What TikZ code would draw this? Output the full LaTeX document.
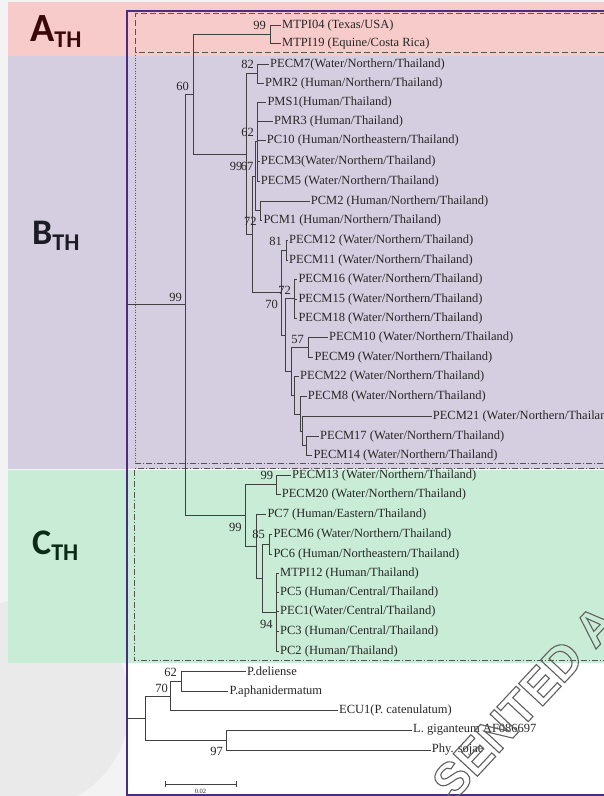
\documentclass[tikz,border=0pt]{standalone}
\usepackage{fontspec}
\setmainfont{Liberation Serif}
\newfontfamily\labelfont{Carlito}
\newfontfamily\markfont{Liberation Sans}
\definecolor{pagegray}{HTML}{F3F3F3}
\definecolor{pagecircle}{HTML}{EAEAEA}
\definecolor{bandA}{HTML}{F8CBCB}
\definecolor{bandB}{HTML}{D5CEE0}
\definecolor{bandC}{HTML}{C9ECD7}
\definecolor{framecol}{HTML}{4B2C84}
\definecolor{treeline}{HTML}{404040}
\definecolor{treeink}{HTML}{262626}
\definecolor{boxline}{HTML}{555555}
\definecolor{athcol}{HTML}{3A0808}
\definecolor{bthcol}{HTML}{1C1C24}
\definecolor{cthcol}{HTML}{0B2B14}
\definecolor{markcol}{HTML}{606060}

\begin{document}
\begin{tikzpicture}[x=1pt,y=-1pt,
  leaf/.style={anchor=west,inner sep=1pt,text=treeink,font=\fontsize{12.5}{14}\selectfont},
  boot/.style={anchor=east,inner sep=0pt,text=treeink,font=\fontsize{12.5}{14}\selectfont},
  branch/.style={draw=treeline,line width=0.9pt},
  grouplabel/.style={anchor=base west,inner sep=0pt,font=\labelfont\bfseries},
  abox/.style={draw=boxline,line width=0.6pt,dash pattern=on 6pt off 3pt},
  cbox/.style={draw=boxline,line width=0.6pt,dash pattern=on 6pt off 2pt on 1pt off 2pt}]
    \useasboundingbox (0,0) rectangle (604,796);
    \clip (0,0) rectangle (604,796);
    % achtergrond
    \fill[pagegray] (0,0) rectangle (604,796);
    \fill[pagecircle] (25,705) circle (105);
    \fill[white] (127,11) rectangle (610,795);
    % banden
    \fill[bandA] (8,2) rectangle (604,56);
    \fill[bandB] (8,56) rectangle (604,468.5);
    \fill[bandC] (8,469.5) rectangle (604,663);
    % kader
    \draw[framecol,line width=1.6pt] (610,11) -- (127,11) -- (127,795) -- (610,795);
    % kaders clades
    \draw[abox] (606,13.5) -- (135.7,13.5) -- (135.7,52.7) -- (606,52.7);
    \draw[boxline,line width=0.6pt,dotted] (135,55) -- (135,463);
    \draw[cbox] (135,463) -- (606,463);
    \draw[cbox] (606,468.5) -- (134,468.5) -- (134,660.7) -- (606,660.7);
    % groepen
    \node[grouplabel,text=athcol] (labA) at (30,41) {\fontsize{40}{40}\selectfont A\raisebox{-6pt}{\fontsize{24}{24}\selectfont TH}};
    \node[grouplabel,text=bthcol] (labB) at (32,244) {\fontsize{36}{36}\selectfont B\raisebox{-6pt}{\fontsize{24}{24}\selectfont TH}};
    \node[grouplabel,text=cthcol] (labC) at (32,554) {\fontsize{36}{36}\selectfont C\raisebox{-6pt}{\fontsize{24}{24}\selectfont TH}};

    % bladeren a
    \node[leaf] (mtpi04) at (281,25) {MTPI04 (Texas/USA)};
    \node[leaf] (mtpi19) at (281,43.3) {MTPI19 (Equine/Costa Rica)};
    % bladeren b
    \node[leaf] (pecm7) at (269,64.3) {PECM7(Water/Northern/Thailand)};
    \node[leaf] (pmr2) at (264,83.3) {PMR2 (Human/Northern/Thailand)};
    \node[leaf] (pms1) at (266.3,102.7) {PMS1(Human/Thailand)};
    \node[leaf] (pmr3) at (273,121.7) {PMR3 (Human/Thailand)};
    \node[leaf] (pc10) at (265.7,140.7) {PC10 (Human/Northeastern/Thailand)};
    \node[leaf] (pecm3) at (259.7,161) {PECM3(Water/Northern/Thailand)};
    \node[leaf] (pecm5) at (259.7,181) {PECM5 (Water/Northern/Thailand)};
    \node[leaf] (pcm2) at (309.7,201) {PCM2 (Human/Northern/Thailand)};
    \node[leaf] (pcm1) at (262.3,220.7) {PCM1 (Human/Northern/Thailand)};
    \node[leaf] (pecm12) at (288,240) {PECM12 (Water/Northern/Thailand)};
    \node[leaf] (pecm11) at (288,260) {PECM11 (Water/Northern/Thailand)};
    \node[leaf] (pecm16) at (297.3,279.3) {PECM16 (Water/Northern/Thailand)};
    \node[leaf] (pecm15) at (297.3,299) {PECM15 (Water/Northern/Thailand)};
    \node[leaf] (pecm18) at (297.3,318.3) {PECM18 (Water/Northern/Thailand)};
    \node[leaf] (pecm10) at (328,337.3) {PECM10 (Water/Northern/Thailand)};
    \node[leaf] (pecm9) at (313.3,357.3) {PECM9 (Water/Northern/Thailand)};
    \node[leaf] (pecm22) at (299,376.7) {PECM22 (Water/Northern/Thailand)};
    \node[leaf] (pecm8) at (306.7,396.7) {PECM8 (Water/Northern/Thailand)};
    \node[leaf] (pecm21) at (431.7,416.7) {PECM21 (Water/Northern/Thailand)};
    \node[leaf] (pecm17) at (319,436) {PECM17 (Water/Northern/Thailand)};
    \node[leaf] (pecm14) at (312.3,455.7) {PECM14 (Water/Northern/Thailand)};
    % bladeren c
    \node[leaf] (pecm13) at (291,475) {PECM13 (Water/Northern/Thailand)};
    \node[leaf] (pecm20) at (280.7,494.3) {PECM20 (Water/Northern/Thailand)};
    \node[leaf] (pc7) at (266.3,514.3) {PC7 (Human/Eastern/Thailand)};
    \node[leaf] (pecm6) at (272.3,534) {PECM6 (Water/Northern/Thailand)};
    \node[leaf] (pc6) at (272.3,554) {PC6 (Human/Northeastern/Thailand)};
    \node[leaf] (mtpi12) at (279,573.3) {MTPI12 (Human/Thailand)};
    \node[leaf] (pc5) at (279,592.3) {PC5 (Human/Central/Thailand)};
    \node[leaf] (pec1) at (279,611.7) {PEC1(Water/Central/Thailand)};
    \node[leaf] (pc3) at (279,631.7) {PC3 (Human/Central/Thailand)};
    \node[leaf] (pc2) at (279,651.7) {PC2 (Human/Thailand)};
    % buitengroep
    \node[leaf] (deliense) at (246,671.7) {P.deliense};
    \node[leaf] (aphan) at (228.3,691) {P.aphanidermatum};
    \node[leaf] (ecu1) at (338,710.7) {ECU1(P. catenulatum)};
    \node[leaf] (gigant) at (412,730) {L. giganteum AF086697};
    \node[leaf] (sojae) at (430.7,750) {Phy. sojae};

    % knopen
    \coordinate (rootin) at (127,304.9);
    \coordinate (rootout) at (127,718);
    \coordinate (n99r) at (185.7,304.9);
    \coordinate (n60) at (193,94.2);
    \coordinate (n99a) at (270,34.2);
    \coordinate (n99b) at (246,154.1);
    \coordinate (n82) at (257.7,73.8);
    \coordinate (n72a) at (252.7,234.4);
    \coordinate (n67) at (255,176.35);
    \coordinate (n62) at (257.7,141.85);
    \coordinate (npcm) at (260,210.85);
    \coordinate (n70) at (281.7,292.5);
    \coordinate (n81) at (286,250);
    \coordinate (nb1) at (285.7,335);
    \coordinate (n72b) at (294.3,298.8);
    \coordinate (nb2) at (291,371.3);
    \coordinate (n57) at (308.3,347.3);
    \coordinate (nb3) at (294.3,395.3);
    \coordinate (nb4) at (300.7,414);
    \coordinate (nb5) at (302.7,431.3);
    \coordinate (nb6) at (306.7,445.85);
    \coordinate (n99c) at (245,515.5);
    \coordinate (n99d) at (276.7,484.7);
    \coordinate (nc1) at (256.7,546.3);
    \coordinate (nc2) at (262.7,578.25);
    \coordinate (n85) at (269.3,544);
    \coordinate (n94) at (276,612.5);
    \coordinate (nout) at (145,718);
    \coordinate (n70o) at (170.7,696.35);
    \coordinate (n62o) at (181.7,681.35);
    \coordinate (n97) at (226,740);

    % takken
    \draw[branch] (rootin) -- (n99r);
    \draw[branch] (n99r) |- (n60);
    \draw[branch] (n99r) |- (n99c);
    \draw[branch] (n60) |- (n99a);
    \draw[branch] (n60) |- (n99b);
    \draw[branch] (n99a) |- (mtpi04.west);
    \draw[branch] (n99a) |- (mtpi19.west);
    \draw[branch] (n99b) |- (n82);
    \draw[branch] (n99b) |- (n72a);
    \draw[branch] (n82) |- (pecm7.west);
    \draw[branch] (n82) |- (pmr2.west);
    \draw[branch] (n72a) |- (n67);
    \draw[branch] (n72a) |- (n70);
    \draw[branch] (n67) |- (n62);
    \draw[branch] (n67) |- (npcm);
    \draw[branch] (n62) |- (pms1.west);
    \draw[branch] (n62) |- (pmr3.west);
    \draw[branch] (n62) |- (pc10.west);
    \draw[branch] (n62) |- (pecm3.west);
    \draw[branch] (n62) |- (pecm5.west);
    \draw[branch] (npcm) |- (pcm2.west);
    \draw[branch] (npcm) |- (pcm1.west);
    \draw[branch] (n70) |- (n81);
    \draw[branch] (n70) |- (nb1);
    \draw[branch] (n81) |- (pecm12.west);
    \draw[branch] (n81) |- (pecm11.west);
    \draw[branch] (nb1) |- (n72b);
    \draw[branch] (nb1) |- (nb2);
    \draw[branch] (n72b) |- (pecm16.west);
    \draw[branch] (n72b) |- (pecm15.west);
    \draw[branch] (n72b) |- (pecm18.west);
    \draw[branch] (nb2) |- (n57);
    \draw[branch] (nb2) |- (nb3);
    \draw[branch] (n57) |- (pecm10.west);
    \draw[branch] (n57) |- (pecm9.west);
    \draw[branch] (nb3) |- (pecm22.west);
    \draw[branch] (nb3) |- (nb4);
    \draw[branch] (nb4) |- (pecm8.west);
    \draw[branch] (nb4) |- (nb5);
    \draw[branch] (nb5) |- (pecm21.west);
    \draw[branch] (nb5) |- (nb6);
    \draw[branch] (nb6) |- (pecm17.west);
    \draw[branch] (nb6) |- (pecm14.west);
    \draw[branch] (n99c) |- (n99d);
    \draw[branch] (n99c) |- (nc1);
    \draw[branch] (n99d) |- (pecm13.west);
    \draw[branch] (n99d) |- (pecm20.west);
    \draw[branch] (nc1) |- (pc7.west);
    \draw[branch] (nc1) |- (nc2);
    \draw[branch] (nc2) |- (n85);
    \draw[branch] (nc2) |- (n94);
    \draw[branch] (n85) |- (pecm6.west);
    \draw[branch] (n85) |- (pc6.west);
    \draw[branch] (n94) |- (mtpi12.west);
    \draw[branch] (n94) |- (pc5.west);
    \draw[branch] (n94) |- (pec1.west);
    \draw[branch] (n94) |- (pc3.west);
    \draw[branch] (n94) |- (pc2.west);
    \draw[branch] (rootout) -- (nout);
    \draw[branch] (nout) |- (n70o);
    \draw[branch] (nout) |- (n97);
    \draw[branch] (n70o) |- (n62o);
    \draw[branch] (n70o) |- (ecu1.west);
    \draw[branch] (n62o) |- (deliense.west);
    \draw[branch] (n62o) |- (aphan.west);
    \draw[branch] (n97) |- (gigant.west);
    \draw[branch] (n97) |- (sojae.west);

    % bootstrap
    \node[boot] (bs99a) at (266,25) {99};
    \node[boot] (bs82) at (254,64) {82};
    \node[boot] (bs60) at (189,86) {60};
    \node[boot] (bs62) at (254,132.7) {62};
    \node[boot] (bs99b) at (242.5,166) {99};
    \node[boot] (bs67) at (253.5,166) {67};
    \node[boot] (bs72a) at (256.7,221) {72};
    \node[boot] (bs81) at (282,241.7) {81};
    \node[boot] (bs72b) at (291,290) {72};
    \node[boot] (bs70) at (278,304) {70};
    \node[boot] (bs57) at (304,339) {57};
    \node[boot] (bs99r) at (182,297) {99};
    \node[boot] (bs99d) at (273.3,475.7) {99};
    \node[boot] (bs99c) at (241.7,527.7) {99};
    \node[boot] (bs85) at (265,534.3) {85};
    \node[boot] (bs94) at (272.7,624) {94};
    \node[boot] (bs62o) at (177,672) {62};
    \node[boot] (bs70o) at (168,688) {70};
    \node[boot] (bs97) at (223,751.7) {97};

    % schaal
    \coordinate (sbl) at (165,784);
    \coordinate (sbr) at (236,784);
    \draw[branch,line width=0.7pt] (sbl) -- (sbr);
    \draw[branch,line width=0.7pt] ([yshift=-3]sbl) -- ([yshift=3]sbl);
    \draw[branch,line width=0.7pt] ([yshift=-3]sbr) -- ([yshift=3]sbr);
    \node[text=treeink,font=\fontsize{6.5}{7}\selectfont,inner sep=0pt] (sbt) at (200.5,791.5) {0.02};

    % watermerk
    \node[rotate=47,inner sep=0pt,text=markcol,font=\markfont\bfseries\fontsize{48}{48}\selectfont] (wmark) at (524,702)
      {\special{pdf:literal direct 1 Tr 1.1 w}SENTED A\special{pdf:literal direct 0 Tr}};
\end{tikzpicture}
\end{document}
